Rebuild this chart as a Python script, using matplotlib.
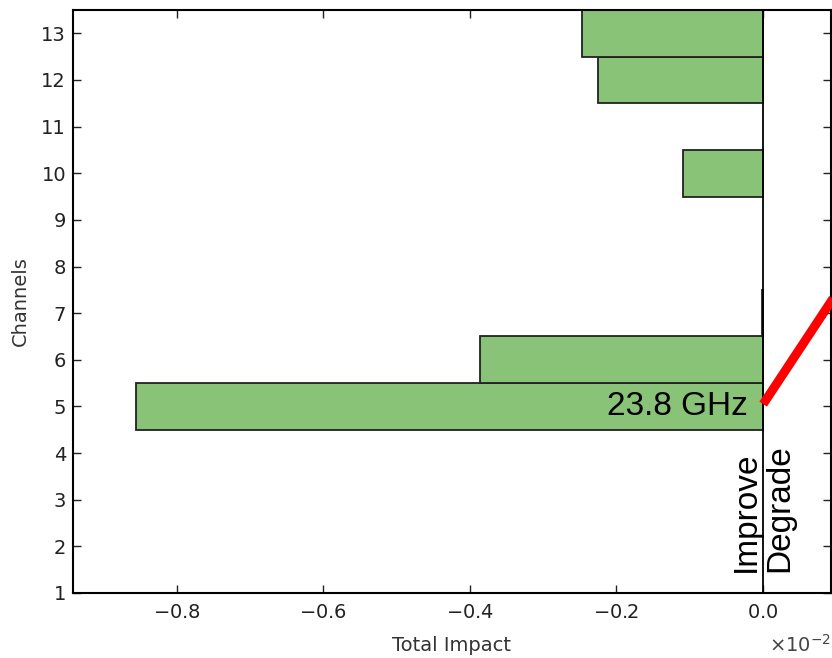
import matplotlib
matplotlib.use('Agg')
import matplotlib.pyplot as plt

# channel impact values (in units of 1e-2)
channels = [5, 6, 7, 10, 12, 13]
impact = [-0.856, -0.386, -0.001, -0.109, -0.225, -0.247]

plt.rcParams['xtick.direction'] = 'in'
plt.rcParams['ytick.direction'] = 'in'
plt.rcParams['xtick.top'] = True
plt.rcParams['ytick.right'] = True

fig = plt.figure(figsize=(8.32, 6.58), dpi=100)
ax = fig.add_axes([73 / 832, 1 - 593 / 658, 758 / 832, 583 / 658])

vals = [v * 1e-2 for v in impact]
ax.barh(channels, vals, height=1.0, color='#88c377', edgecolor='#222222',
        linewidth=1.3, zorder=2)
ax.axvline(0, color='black', linewidth=1.3, zorder=3)

ax.set_xlim(-0.942e-2, 0.093e-2)
ax.set_ylim(1, 13.5)
ax.set_yticks(range(1, 14))
ax.set_xticks([-0.008, -0.006, -0.004, -0.002, 0.0])
ax.ticklabel_format(axis='x', style='sci', scilimits=(-2, -2), useMathText=True)
ax.xaxis.get_offset_text().set_visible(False)

for s in ax.spines.values():
    s.set_linewidth(1.5)
    s.set_zorder(4)
ax.tick_params(length=6, width=1, labelsize=14, colors='#222222', pad=7)
ax.tick_params(axis='y', pad=5)

ax.set_xlabel('Total Impact', fontsize=14, color='#333333', labelpad=10)
ax.set_ylabel('Channels', fontsize=14, color='#333333', labelpad=8)
fig.text(831 / 832, 2 / 658, r'$\times10^{-2}$', ha='right', va='bottom',
         fontsize=14, color='#444444')

ax.text(-0.0002, 5.0, '23.8 GHz', ha='right', va='center', fontsize=24,
        family='Liberation Sans', color='black', zorder=5)
ax.text(-0.00002, 1.45, 'Improve', rotation=90, ha='right', va='bottom',
        fontsize=24, family='Liberation Sans', color='black', zorder=5)
ax.text(0.00002, 1.45, 'Degrade', rotation=90, ha='left', va='bottom',
        fontsize=24, family='Liberation Sans', color='black', zorder=5)

# red pointer line
ax.plot([0.0004e-2, 0.096e-2], [5.05, 7.32], color='red', linewidth=6.5,
        solid_capstyle='butt', clip_on=False, zorder=6)

fig.savefig('out.png', dpi=100)
